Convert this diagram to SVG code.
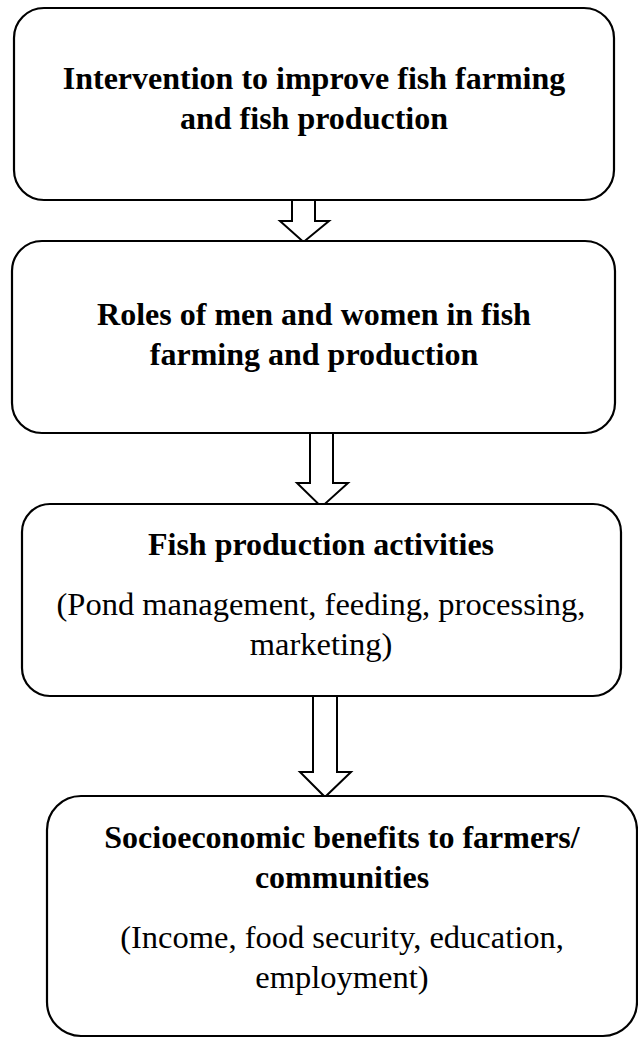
<svg xmlns="http://www.w3.org/2000/svg" width="638" height="1038" viewBox="0 0 638 1038">
<style>
.box{fill:#fff;stroke:#000;stroke-width:2.2}
.arr{fill:#fff;stroke:#000;stroke-width:2;stroke-linejoin:miter}
.b{font-family:"Liberation Serif","Times New Roman",serif;font-weight:bold;font-size:32px;fill:#000;text-anchor:middle}
.r{font-family:"Liberation Serif","Times New Roman",serif;font-size:32.5px;fill:#000;text-anchor:middle}
</style>
<rect width="638" height="1038" fill="#fff"/>
<g id="connectors">
<polygon class="arr" points="292,200 315,200 315,221 329,221 303.5,242 280,221 292,221"/>
<polygon class="arr" points="310,433 333,433 333,483 348,483 321.5,507 297,483 310,483"/>
<polygon class="arr" points="313,696 337,696 337,772 351,772 325,797 300,772 313,772"/>
</g>
<g id="node1">
<rect class="box" x="14" y="8" width="600" height="192" rx="30"/>
<text class="b" x="314" y="89">Intervention to improve fish farming</text>
<text class="b" x="314" y="129">and fish production</text>
</g>
<g id="node2">
<rect class="box" x="12" y="241" width="603" height="192" rx="30"/>
<text class="b" x="314" y="325">Roles of men and women in fish</text>
<text class="b" x="314" y="365">farming and production</text>
</g>
<g id="node3">
<rect class="box" x="22" y="504" width="599" height="192" rx="28"/>
<text class="b" x="321" y="555">Fish production activities</text>
<text class="r" x="321" y="615">(Pond management, feeding, processing,</text>
<text class="r" x="321" y="655">marketing)</text>
</g>
<g id="node4">
<rect class="box" x="47" y="796" width="590" height="240" rx="34"/>
<text class="b" x="342" y="848">Socioeconomic benefits to farmers/</text>
<text class="b" x="342" y="888">communities</text>
<text class="r" x="342" y="948">(Income, food security, education,</text>
<text class="r" x="342" y="988">employment)</text>
</g>
</svg>
